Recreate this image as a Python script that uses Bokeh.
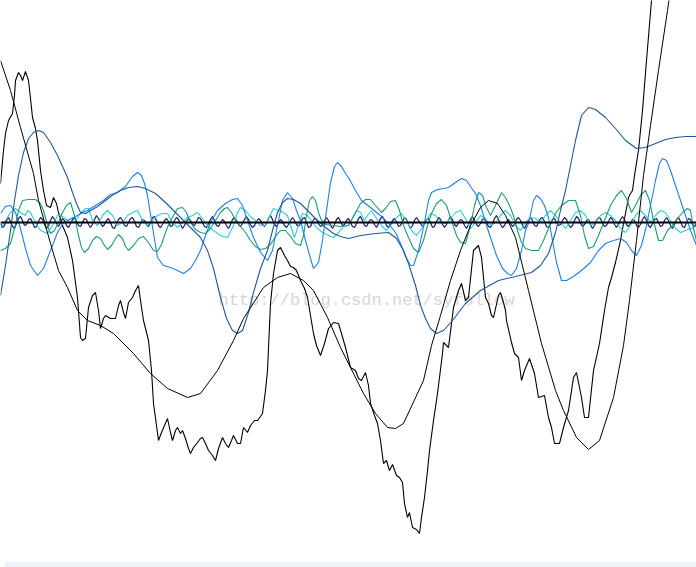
from bokeh.plotting import figure
from bokeh.models import Range1d, Div
from bokeh.layouts import column
from bokeh.embed import file_html
from bokeh.resources import INLINE
from bokeh.core.properties import value

# ---- data (sample index, reading on a reversed vertical scale; 222 = zero level) ----
baseline_x = [0, 696]
baseline_y = [222, 222]

signal_x = [0, 3, 5, 8, 12, 14, 15, 18, 20, 22, 25, 28, 30, 32, 35, 37, 40, 43, 46, 50, 53, 56, 58, 62, 67,
            72, 77, 80, 82, 85, 88, 92, 95, 98, 100, 103, 105, 110, 115, 118, 120, 123, 125, 128, 132, 135,
            138, 140, 143, 148, 151, 153, 156, 158, 161, 164, 167, 170, 172, 175, 177, 180, 182, 185, 188,
            190, 193, 197, 200, 202, 205, 208, 212, 215, 218, 222, 225, 228, 231, 233, 237, 240, 243, 247,
            250, 254, 257, 260, 262, 265, 267, 270, 273, 277, 280, 284, 287, 290, 293, 296, 300, 304, 307,
            310, 313, 316, 320, 324, 328, 333, 338, 341, 345, 350, 355, 358, 361, 365, 368, 370, 374, 377,
            380, 383, 386, 389, 392, 396, 399, 402, 404, 407, 409, 412, 416, 419, 421, 424, 427, 429, 433,
            437, 442, 443, 448, 453, 458, 461, 465, 468, 473, 478, 481, 485, 488, 491, 493, 498, 500, 503,
            505, 506, 511, 514, 518, 521, 524, 529, 534, 538, 544, 548, 551, 554, 559, 563, 568, 573, 576,
            581, 584, 588, 593, 599, 604, 608, 611, 615, 620, 623, 626, 628, 630, 632, 634, 638, 642, 646,
            651, 655]
signal_y = [183, 150, 133, 120, 113, 95, 80, 72, 75, 80, 71, 80, 98, 117, 128, 140, 170, 190, 205, 207, 197,
            203, 212, 225, 237, 260, 297, 337, 340, 338, 307, 295, 292, 310, 328, 318, 315, 318, 318, 305,
            300, 312, 318, 302, 297, 290, 285, 300, 320, 340, 370, 403, 425, 440, 432, 425, 418, 432, 440,
            430, 427, 433, 430, 438, 448, 453, 447, 442, 438, 437, 443, 450, 455, 460, 448, 437, 443, 447,
            440, 435, 443, 443, 427, 432, 425, 420, 420, 416, 413, 390, 370, 303, 273, 250, 247, 255, 260,
            266, 267, 270, 280, 288, 297, 315, 333, 345, 355, 343, 328, 322, 323, 333, 347, 367, 370, 378,
            380, 372, 385, 403, 415, 423, 440, 463, 460, 470, 464, 475, 477, 482, 503, 517, 512, 527, 529,
            533, 517, 497, 470, 450, 420, 393, 353, 342, 347, 307, 290, 283, 300, 297, 250, 245, 257, 297,
            303, 315, 317, 295, 292, 302, 310, 320, 342, 353, 357, 380, 370, 358, 373, 397, 395, 417, 427,
            443, 443, 427, 410, 377, 372, 397, 417, 417, 370, 343, 310, 287, 277, 262, 240, 223, 208, 197,
            193, 190, 175, 150, 110, 60, 0, -40]

trend_x = [0, 10, 20, 33, 38, 50, 58, 67, 77, 87, 100, 113, 133, 150, 167, 187, 200, 217, 233, 243, 263,
           277, 290, 303, 313, 327, 340, 363, 375, 387, 395, 403, 423, 431, 440, 450, 460, 470, 480, 488,
           497, 505, 515, 528, 541, 555, 563, 576, 588, 599, 613, 623, 629, 636, 643, 650, 658, 667, 672]
trend_y = [60, 90, 127, 173, 200, 243, 270, 287, 310, 320, 325, 333, 353, 373, 388, 397, 393, 370, 340,
           318, 287, 277, 273, 280, 290, 317, 347, 393, 413, 427, 428, 423, 380, 345, 315, 280, 250, 225,
           207, 200, 203, 215, 237, 290, 343, 390, 410, 437, 449, 440, 397, 345, 300, 240, 175, 125, 70,
           10, -25]

imf6_x = [0, 5, 10, 14, 18, 23, 28, 33, 38, 43, 50, 57, 63, 67, 72, 76, 80, 85, 90, 97, 105, 113, 120,
          128, 137, 145, 155, 165, 173, 185, 193, 200, 207, 213, 220, 226, 232, 237, 242, 248, 253, 260,
          267, 272, 277, 282, 287, 293, 300, 308, 317, 325, 333, 340, 348, 360, 375, 388, 396, 403, 408,
          415, 420, 425, 430, 436, 443, 452, 465, 480, 498, 515, 531, 540, 548, 555, 560, 565, 570, 575,
          581, 588, 595, 605, 615, 625, 636, 645, 655, 665, 675, 685, 696]
imf6_y = [295, 265, 230, 200, 175, 152, 138, 132, 130, 132, 142, 155, 168, 177, 192, 203, 212, 213, 210,
          206, 200, 194, 190, 187, 186, 188, 193, 202, 210, 222, 230, 237, 250, 268, 297, 318, 330, 333,
          330, 312, 292, 268, 250, 230, 212, 202, 198, 199, 203, 211, 220, 227, 233, 236, 238, 235, 233,
          232, 238, 250, 263, 285, 305, 318, 328, 333, 330, 320, 303, 290, 280, 276, 272, 265, 253, 232,
          210, 190, 165, 140, 115, 107, 109, 117, 128, 140, 148, 147, 143, 139, 137, 136, 136]

imf5_x = [0, 5, 10, 15, 20, 25, 30, 37, 43, 50, 57, 63, 67, 75, 82, 87, 95, 103, 110, 117, 125, 132, 137,
          141, 144, 147, 151, 155, 157, 163, 170, 177, 183, 190, 195, 200, 205, 210, 217, 225, 232, 237,
          242, 247, 253, 260, 267, 272, 277, 282, 287, 292, 296, 300, 305, 310, 313, 318, 322, 326, 330,
          334, 337, 341, 345, 348, 355, 361, 370, 380, 388, 395, 400, 405, 410, 413, 418, 424, 428, 431,
          437, 443, 448, 455, 461, 466, 470, 475, 480, 486, 491, 496, 502, 507, 511, 516, 521, 525, 528,
          533, 536, 540, 544, 548, 552, 556, 561, 566, 573, 581, 590, 598, 605, 613, 620, 626, 631, 636,
          641, 646, 651, 655, 659, 662, 666, 670, 675, 680, 685, 690, 696]
imf5_y = [213, 206, 205, 212, 228, 248, 265, 275, 268, 250, 232, 222, 220, 216, 212, 210, 205, 200, 194,
          192, 186, 176, 172, 175, 183, 195, 220, 245, 257, 265, 267, 270, 273, 268, 260, 250, 235, 222,
          210, 203, 199, 198, 205, 220, 237, 252, 260, 250, 225, 200, 192, 198, 210, 220, 240, 258, 268,
          262, 240, 210, 182, 166, 162, 166, 173, 177, 190, 200, 207, 215, 223, 232, 243, 256, 265, 265,
          250, 222, 200, 192, 189, 188, 187, 182, 178, 180, 186, 193, 205, 225, 240, 255, 268, 273, 275,
          268, 250, 230, 223, 200, 195, 198, 205, 217, 240, 262, 280, 280, 276, 270, 262, 250, 243, 240,
          238, 242, 250, 255, 245, 225, 200, 180, 163, 158, 160, 170, 185, 200, 215, 230, 245]

imf4_x = [0, 5, 10, 14, 18, 22, 28, 35, 40, 43, 47, 50, 54, 58, 62, 66, 70, 74, 78, 81, 84, 88, 92, 96,
          100, 104, 107, 111, 115, 118, 122, 125, 128, 133, 138, 143, 148, 153, 157, 161, 165, 169, 173,
          177, 182, 186, 190, 195, 200, 205, 210, 215, 220, 224, 227, 231, 235, 240, 245, 250, 255, 260,
          265, 270, 275, 280, 285, 290, 295, 300, 303, 306, 309, 312, 315, 318, 321, 325, 333, 340, 348,
          355, 360, 365, 370, 375, 381, 385, 390, 395, 399, 403, 408, 413, 418, 423, 427, 431, 436, 441,
          446, 451, 456, 460, 465, 470, 474, 478, 482, 486, 490, 495, 501, 505, 509, 513, 517, 521, 525,
          531, 538, 543, 548, 555, 561, 568, 575, 580, 584, 588, 593, 598, 604, 610, 616, 621, 626, 631,
          635, 640, 645, 649, 653, 658, 662, 667, 672, 677, 682, 687, 690, 693, 696]
imf4_y = [250, 248, 243, 228, 210, 200, 199, 199, 203, 210, 225, 233, 230, 222, 212, 205, 202, 215, 235,
          247, 252, 248, 240, 236, 238, 245, 249, 245, 238, 234, 238, 246, 250, 245, 238, 236, 242, 250,
          251, 244, 232, 222, 215, 208, 207, 212, 222, 229, 232, 233, 228, 220, 212, 208, 207, 212, 220,
          226, 232, 240, 246, 249, 248, 244, 236, 230, 230, 236, 243, 245, 235, 215, 200, 196, 200, 212,
          220, 224, 225, 226, 225, 212, 203, 199, 199, 205, 212, 208, 201, 200, 210, 225, 237, 248, 252,
          240, 225, 213, 203, 199, 205, 220, 235, 242, 243, 225, 205, 192, 195, 207, 215, 205, 192, 197,
          205, 215, 230, 242, 248, 250, 250, 240, 228, 213, 205, 200, 200, 215, 235, 248, 246, 235, 220,
          205, 195, 190, 198, 212, 205, 195, 190, 200, 220, 240, 240, 230, 225, 218, 212, 208, 210, 228,
          240]

imf3_x = [0, 5, 10, 15, 20, 25, 27, 30, 35, 40, 47, 52, 57, 60, 65, 70, 75, 80, 85, 88, 92, 97, 102,
          107, 112, 117, 122, 127, 132, 137, 142, 147, 152, 157, 162, 167, 172, 177, 182, 187, 192, 197,
          202, 207, 213, 220, 227, 233, 237, 240, 245, 250, 255, 260, 265, 268, 273, 278, 283, 287, 290,
          294, 298, 302, 307, 312, 317, 322, 328, 333, 338, 343, 348, 352, 356, 360, 364, 367, 371, 376,
          381, 386, 391, 396, 401, 406, 411, 416, 421, 426, 430, 435, 440, 445, 450, 455, 460, 465, 470,
          475, 480, 485, 490, 495, 500, 505, 510, 515, 520, 525, 530, 535, 540, 545, 550, 555, 560, 565,
          570, 575, 580, 585, 590, 595, 600, 605, 610, 615, 620, 625, 630, 635, 640, 645, 650, 655, 660,
          665, 670, 675, 680, 685, 690, 696]
imf3_y = [228, 220, 212, 208, 212, 215, 210, 212, 222, 230, 233, 225, 215, 215, 218, 222, 220, 213, 208,
          208, 220, 225, 215, 210, 215, 225, 222, 215, 212, 210, 220, 225, 220, 215, 213, 213, 222, 227,
          222, 217, 215, 212, 218, 225, 230, 235, 237, 225, 212, 207, 210, 216, 220, 225, 225, 218, 208,
          210, 212, 215, 225, 237, 225, 213, 215, 222, 228, 232, 235, 237, 232, 226, 225, 218, 210, 212,
          220, 215, 210, 218, 225, 230, 224, 217, 213, 220, 230, 235, 228, 220, 213, 215, 222, 223, 218,
          212, 210, 218, 228, 222, 215, 218, 225, 222, 215, 210, 215, 225, 230, 222, 217, 218, 222, 215,
          210, 215, 222, 228, 220, 212, 210, 215, 225, 222, 215, 212, 215, 220, 228, 232, 225, 215, 210,
          215, 222, 215, 210, 212, 220, 228, 232, 230, 228, 226]

imf1_d = [1, 5, 3, -2, -5, -1, 4, 6, 1, -4, -6, -2, 3, 2, -3, -4, 0, 5, 4, -1,
          -5, -3, 2, 6, 3, -2, -6, -3, 1, 4, 0, -4, -2, 3, 5, 1, -3, -5, -1, 3,
          4, 0, -4, -3, 2, 5, 2, -3, -7, -4, 1, 4, 2, -2, -4, 0, 5, 6, 1, -3,
          -5, -2, 3, 4, 0, -4, -5, -1, 4, 5, 1, -3, -2, 2, 4, 0, -5, -6, -2, 3,
          5, 2, -2, -4, -1, 4, 3, -2, -5, -3, 2, 6, 3, -1, -4, -2, 2, 3, -1, -5,
          -4, 0, 4, 5, 1, -3, -6, -2, 3, 4, 0, -3, -1, 3, 6, 2, -3, -5, -2, 2,
          4, 1, -3, -6, -3, 2, 5, 3, -1, -4, -2, 2, 4, 1, -4, -7, -3, 2, 4, 0,
          -3, -1, 3, 5, 2, -2, -5, -2, 2, 4, 1, -4, -5, 0, 5, 4, -1, -4, -3, 1,
          4, 3, -2, -5, -2, 3, 6, 2, -3, -5, -1, 3, 2, -2, -4, 0, 4, 5, 1, -4,
          -6, -2, 3, 4, 0, -3, -2, 2, 5, 1, -4, -6, -2, 3, 5, 2, -2, -4, -1, 4,
          3, -1, -5, -3, 2, 6, 3, -2, -5, -2, 1, 4, 1, -3, -4, 0, 5, 4, -1, -5,
          -3, 2, 5, 2, -2, -6, -3, 2, 4, 0, -3, -2, 3, 6, 2, -3, -6, -2, 2, 4,
          1, -3, -4, 0, 4, 5, 1, -4, -7, -3, 2, 5, 3, -1, -3, 1, 4, 2, -3, -5,
          -2, 3, 6, 2, -2, -5, -2, 3, 4, 0, -4, -5, -1, 4, 5, 1, -3, -4, 0, 3,
          2, -2, -5, -3, 2, 5, 3, -2, -6, -4, 1, 4, 2, -2, -3, 2, 6, 3, -2, -5,
          -4, 1, 4, 3, -1, -5, -3, 2, 5, 2, -3, -6, -3, 2, 4, 1, -3, -2, 3, 5,
          2, -3, -6, -2, 3, 5, 1, -3, -4, 0, 4, 3, -2, -5, -2, 3, 6, 2, -3, -5,
          -1, 4, 5, 0, -4, -3, 2, 4, 1, -4, -7, -2, 3, 5, 2, -2, -5, -1, 4, 3]
imf1_x = list(range(0, 2 * len(imf1_d), 2))
imf1_y = [222 + d for d in imf1_d]

watermark = "http://blog.csdn.net/syfollow"

# ---- figure ----
p = figure(width=696, height=557, x_range=Range1d(0, 696), y_range=Range1d(557, 0),
           output_backend="svg", toolbar_location=None, min_border=0,
           x_axis_location=None, y_axis_location=None)
p.grid.visible = False
p.outline_line_color = None
p.background_fill_color = "white"
p.border_fill_color = "white"

p.text(x=[218], y=[300], text=[watermark], text_font=value("Liberation Mono"),
       text_font_size="17px", text_color="#d9d6cf", text_baseline="alphabetic")

p.line(signal_x, signal_y, line_color="black", line_width=1.1)
p.line(imf1_x, imf1_y, line_color="#1c1c6e", line_width=1.2)
p.line(imf3_x, imf3_y, line_color="#2ccfdc", line_width=1.1)
p.line(imf4_x, imf4_y, line_color="#1c9c72", line_width=1.1)
p.line(imf5_x, imf5_y, line_color="#1f7fee", line_width=1.1)
p.line(imf6_x, imf6_y, line_color="#1f589c", line_width=1.1)
p.line(trend_x, trend_y, line_color="black", line_width=1.0)
p.line(baseline_x, baseline_y, line_color="black", line_width=1.8)

strip = Div(text="", width=696, height=10, styles={"background-color": "#edf1f8"})

layout = column(p, strip, spacing=0)
open("out.html", "w").write(file_html(layout, INLINE))
